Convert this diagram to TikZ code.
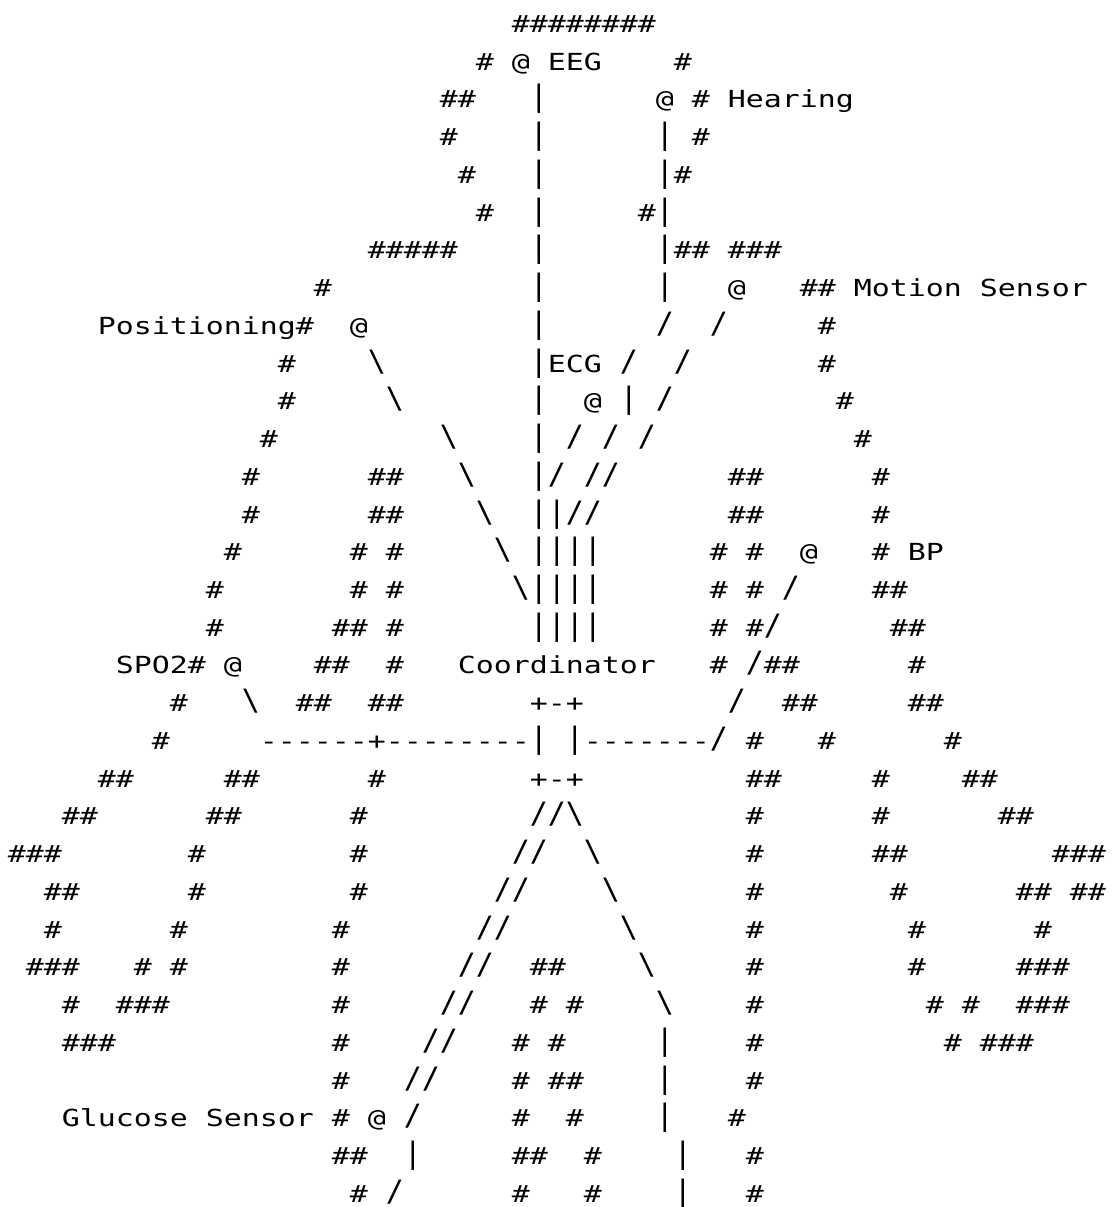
\documentclass[tikz,border=0pt]{standalone}
\usepackage{graphicx}
\usepackage{fontspec}
\setmonofont{DejaVu Sans Mono}[FakeStretch=1.272]
\newlength\cw
\newcommand\bs{\raisebox{0.5pt}{\scalebox{1}[1.25]{\textbackslash}}}
\newcommand\fs{\raisebox{0.5pt}{\scalebox{1}[1.25]{/}}}
\newcommand\vb{\raisebox{0.5pt}{\scalebox{1}[1.25]{|}}}
\newcommand\sk[1]{\hspace*{#1\cw}}
\newcommand\asciifont{\ttfamily\fontsize{11.752pt}{14pt}\selectfont}
\tikzset{
  asciirow/.style={anchor=base west, inner sep=0pt, outer sep=0pt,
    font=\asciifont, text=black}
}
\begin{document}
\settowidth{\cw}{\asciifont 0}%
\begin{tikzpicture}[x=0.5pt,y=-0.5pt]
\fill[white] (0,0) rectangle (1112,1207);
\useasboundingbox (0,0) rectangle (1112,1207);
\node[asciirow] (r0)  at (8,{32.4+37.74*0})  {\sk{28}\#\#\#\#\#\#\#\#};
\node[asciirow] (r1)  at (8,{32.4+37.74*1})  {\sk{26}\#\sk{1}@\sk{1}EEG\sk{4}\#};
\node[asciirow] (r2)  at (8,{32.4+37.74*2})  {\sk{24}\#\#\sk{3}\vb\sk{6}@\sk{1}\#\sk{1}Hearing};
\node[asciirow] (r3)  at (8,{32.4+37.74*3})  {\sk{24}\#\sk{4}\vb\sk{6}\vb\sk{1}\#};
\node[asciirow] (r4)  at (8,{32.4+37.74*4})  {\sk{25}\#\sk{3}\vb\sk{6}\vb\#};
\node[asciirow] (r5)  at (8,{32.4+37.74*5})  {\sk{26}\#\sk{2}\vb\sk{5}\#\vb};
\node[asciirow] (r6)  at (8,{32.4+37.74*6})  {\sk{20}\#\#\#\#\#\sk{4}\vb\sk{6}\vb\#\#\sk{1}\#\#\#};
\node[asciirow] (r7)  at (8,{32.4+37.74*7})  {\sk{17}\#\sk{11}\vb\sk{6}\vb\sk{3}@\sk{3}\#\#\sk{1}Motion\sk{1}Sensor};
\node[asciirow] (r8)  at (8,{32.4+37.74*8})  {\sk{5}Positioning\#\sk{2}@\sk{9}\vb\sk{6}\fs\sk{2}\fs\sk{5}\#};
\node[asciirow] (r9)  at (8,{32.4+37.74*9})  {\sk{15}\#\sk{4}\bs\sk{8}\vb{}ECG\sk{1}\fs\sk{2}\fs\sk{7}\#};
\node[asciirow] (r10) at (8,{32.4+37.74*10}) {\sk{15}\#\sk{5}\bs\sk{7}\vb\sk{2}@\sk{1}\vb\sk{1}\fs\sk{9}\#};
\node[asciirow] (r11) at (8,{32.4+37.74*11}) {\sk{14}\#\sk{9}\bs\sk{4}\vb\sk{1}\fs\sk{1}\fs\sk{1}\fs\sk{11}\#};
\node[asciirow] (r12) at (8,{32.4+37.74*12}) {\sk{13}\#\sk{6}\#\#\sk{3}\bs\sk{3}\vb\fs\sk{1}\fs\fs\sk{6}\#\#\sk{6}\#};
\node[asciirow] (r13) at (8,{32.4+37.74*13}) {\sk{13}\#\sk{6}\#\#\sk{4}\bs\sk{2}\vb\vb\fs\fs\sk{7}\#\#\sk{6}\#};
\node[asciirow] (r14) at (8,{32.4+37.74*14}) {\sk{12}\#\sk{6}\#\sk{1}\#\sk{5}\bs\sk{1}\vb\vb\vb\vb\sk{6}\#\sk{1}\#\sk{2}@\sk{3}\#\sk{1}BP};
\node[asciirow] (r15) at (8,{32.4+37.74*15}) {\sk{11}\#\sk{7}\#\sk{1}\#\sk{6}\bs\vb\vb\vb\vb\sk{6}\#\sk{1}\#\sk{1}\fs\sk{4}\#\#};
\node[asciirow] (r16) at (8,{32.4+37.74*16}) {\sk{11}\#\sk{6}\#\#\sk{1}\#\sk{7}\vb\vb\vb\vb\sk{6}\#\sk{1}\#\fs\sk{6}\#\#};
\node[asciirow] (r17) at (8,{32.4+37.74*17}) {\sk{6}SPO2\#\sk{1}@\sk{4}\#\#\sk{2}\#\sk{3}Coordinator\sk{3}\#\sk{1}\fs\#\#\sk{6}\#};
\node[asciirow] (r18) at (8,{32.4+37.74*18}) {\sk{9}\#\sk{3}\bs\sk{2}\#\#\sk{2}\#\#\sk{7}+-+\sk{8}\fs\sk{2}\#\#\sk{5}\#\#};
\node[asciirow] (r19) at (8,{32.4+37.74*19}) {\sk{8}\#\sk{5}------+--------\vb\sk{1}\vb-------\fs\sk{1}\#\sk{3}\#\sk{6}\#};
\node[asciirow] (r20) at (8,{32.4+37.74*20}) {\sk{5}\#\#\sk{5}\#\#\sk{6}\#\sk{8}+-+\sk{9}\#\#\sk{5}\#\sk{4}\#\#};
\node[asciirow] (r21) at (8,{32.4+37.74*21}) {\sk{3}\#\#\sk{6}\#\#\sk{6}\#\sk{9}\fs\fs\bs\sk{9}\#\sk{6}\#\sk{6}\#\#};
\node[asciirow] (r22) at (8,{32.4+37.74*22}) {\#\#\#\sk{7}\#\sk{8}\#\sk{8}\fs\fs\sk{2}\bs\sk{8}\#\sk{6}\#\#\sk{8}\#\#\#};
\node[asciirow] (r23) at (8,{32.4+37.74*23}) {\sk{2}\#\#\sk{6}\#\sk{8}\#\sk{7}\fs\fs\sk{4}\bs\sk{7}\#\sk{7}\#\sk{6}\#\#\sk{1}\#\#};
\node[asciirow] (r24) at (8,{32.4+37.74*24}) {\sk{2}\#\sk{6}\#\sk{8}\#\sk{7}\fs\fs\sk{6}\bs\sk{6}\#\sk{8}\#\sk{6}\#};
\node[asciirow] (r25) at (8,{32.4+37.74*25}) {\sk{1}\#\#\#\sk{3}\#\sk{1}\#\sk{8}\#\sk{6}\fs\fs\sk{2}\#\#\sk{4}\bs\sk{5}\#\sk{8}\#\sk{5}\#\#\#};
\node[asciirow] (r26) at (8,{32.4+37.74*26}) {\sk{3}\#\sk{2}\#\#\#\sk{9}\#\sk{5}\fs\fs\sk{3}\#\sk{1}\#\sk{4}\bs\sk{4}\#\sk{9}\#\sk{1}\#\sk{2}\#\#\#};
\node[asciirow] (r27) at (8,{32.4+37.74*27}) {\sk{3}\#\#\#\sk{12}\#\sk{4}\fs\fs\sk{3}\#\sk{1}\#\sk{5}\vb\sk{4}\#\sk{10}\#\sk{1}\#\#\#};
\node[asciirow] (r28) at (8,{32.4+37.74*28}) {\sk{18}\#\sk{3}\fs\fs\sk{4}\#\sk{1}\#\#\sk{4}\vb\sk{4}\#};
\node[asciirow] (r29) at (8,{32.4+37.74*29}) {\sk{3}Glucose\sk{1}Sensor\sk{1}\#\sk{1}@\sk{1}\fs\sk{5}\#\sk{2}\#\sk{4}\vb\sk{3}\#};
\node[asciirow] (r30) at (8,{32.4+37.74*30}) {\sk{18}\#\#\sk{2}\vb\sk{5}\#\#\sk{2}\#\sk{4}\vb\sk{3}\#};
\node[asciirow] (r31) at (8,{32.4+37.74*31}) {\sk{19}\#\sk{1}\fs\sk{6}\#\sk{3}\#\sk{4}\vb\sk{3}\#};
\end{tikzpicture}
\end{document}
